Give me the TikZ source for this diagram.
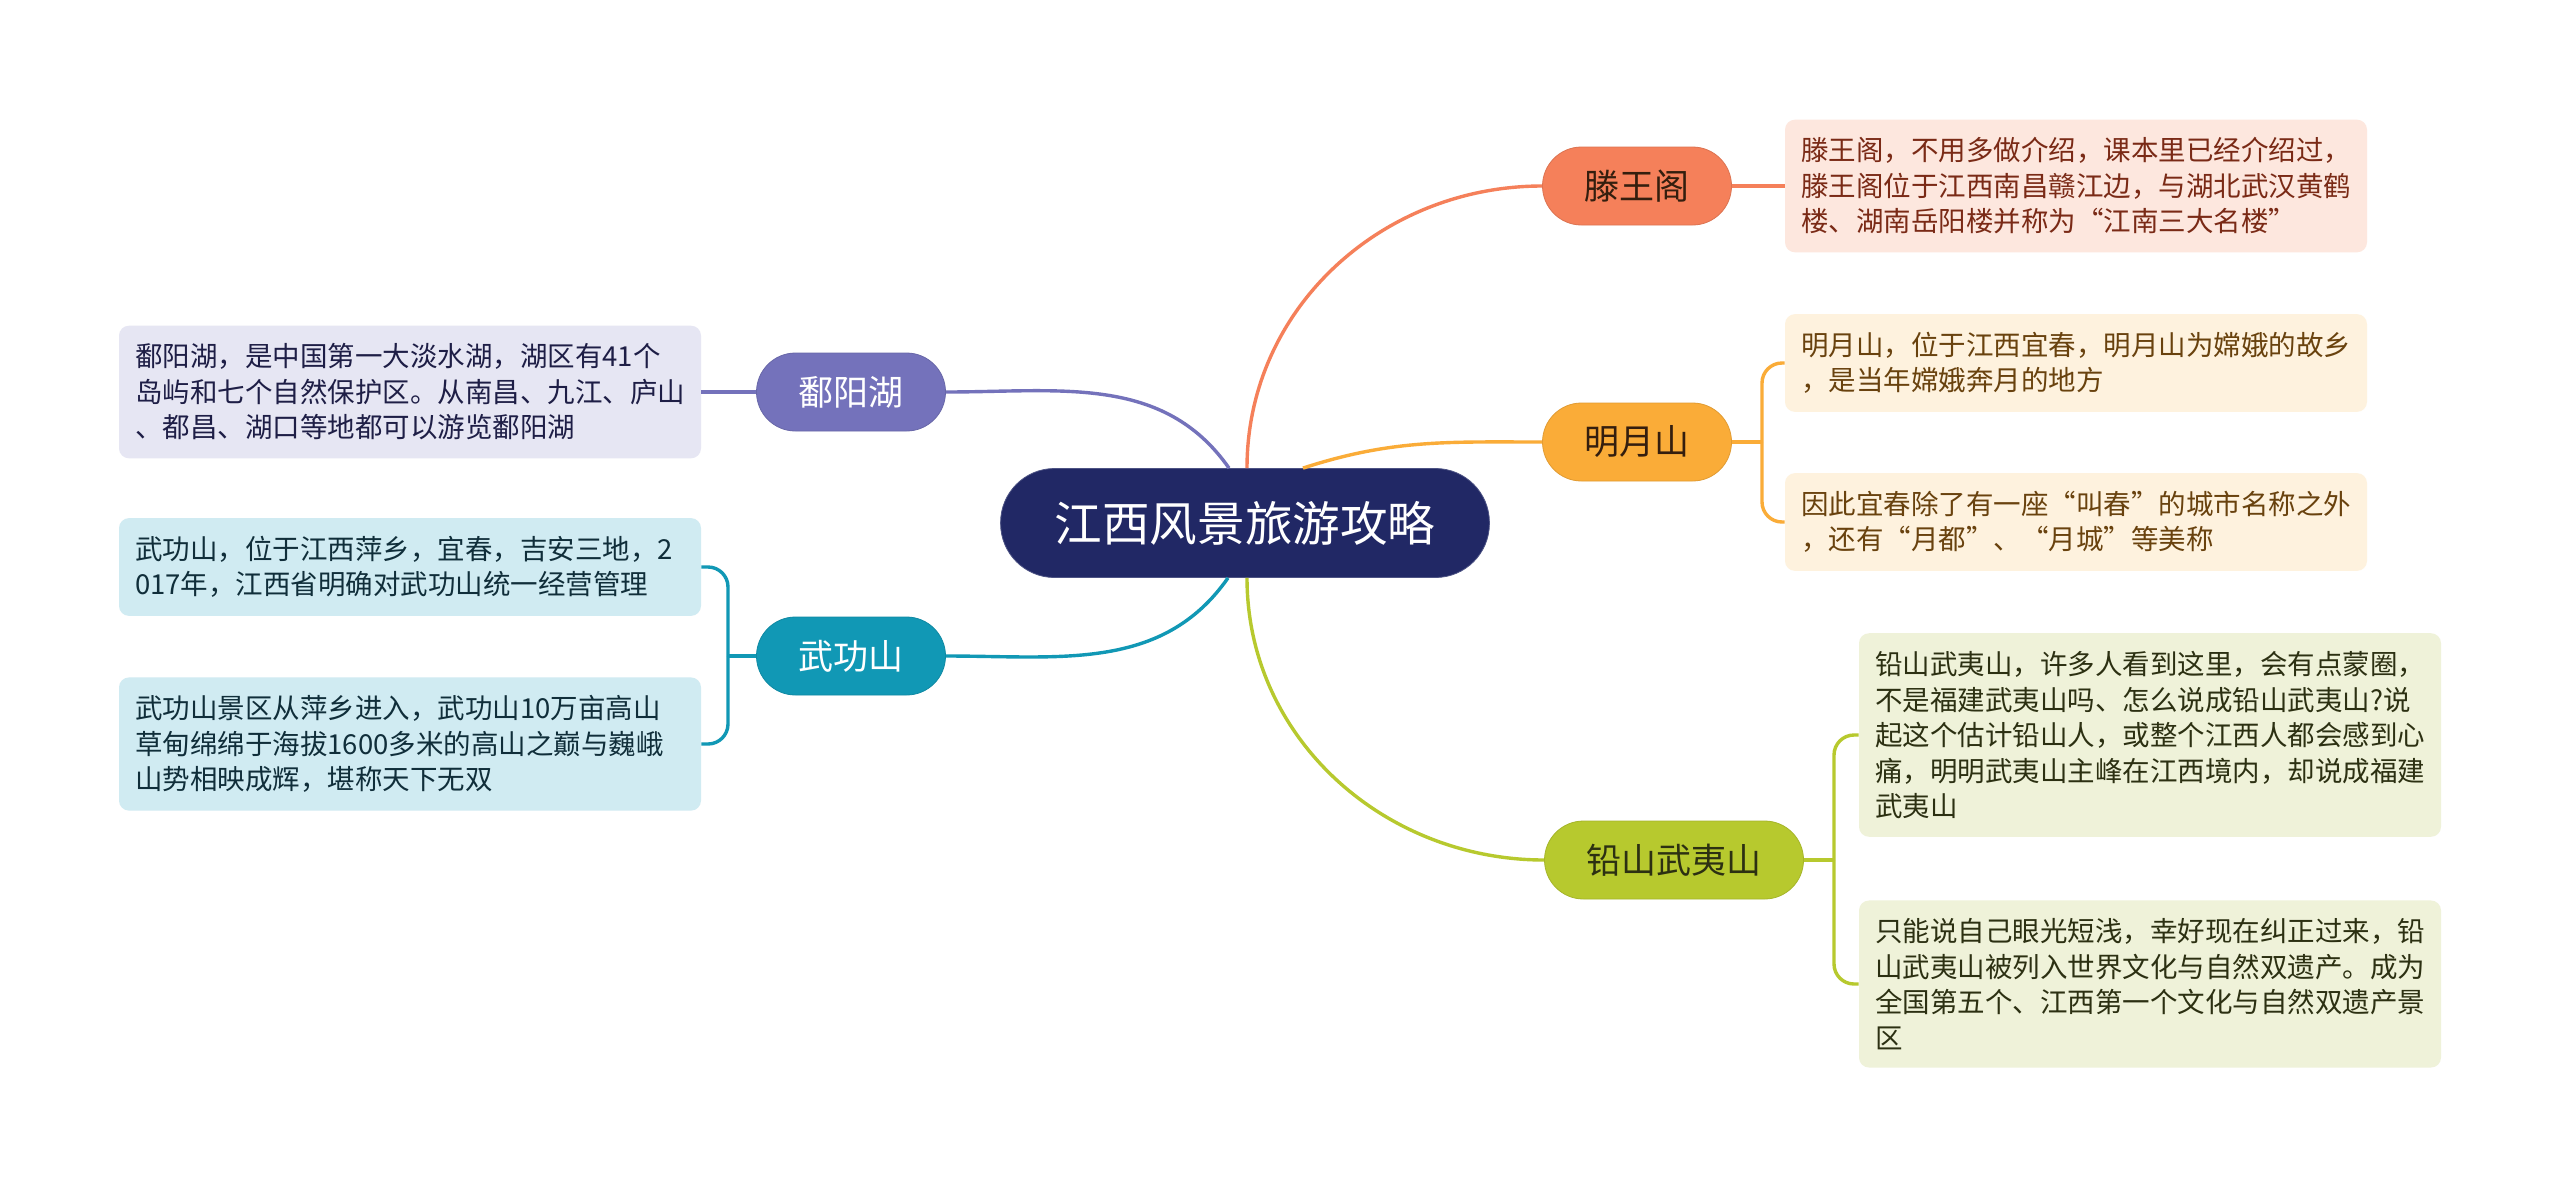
\documentclass[tikz,border=0pt]{standalone}
\usepackage{fontspec}
\newfontfamily\cjk{Noto Sans CJK SC}
\definecolor{navy}{RGB}{33,40,101}
\definecolor{twgc}{RGB}{245,128,90}
\definecolor{twgbg}{RGB}{253,231,222}
\definecolor{twgtx}{RGB}{122,42,22}
\definecolor{myc}{RGB}{250,172,56}
\definecolor{mybg}{RGB}{254,242,222}
\definecolor{mytx}{RGB}{105,66,14}
\definecolor{qsc}{RGB}{183,201,46}
\definecolor{qsbg}{RGB}{239,242,217}
\definecolor{qstx}{RGB}{44,48,18}
\definecolor{pyc}{RGB}{116,114,187}
\definecolor{pybg}{RGB}{230,230,243}
\definecolor{pytx}{RGB}{30,30,70}
\definecolor{wgc}{RGB}{17,152,181}
\definecolor{wgbg}{RGB}{208,235,242}
\definecolor{wgtx}{RGB}{16,46,58}
\definecolor{ink}{RGB}{52,30,14}
\usepackage{tikz}
\usetikzlibrary{calc}
\tikzset{
  centre/.style={fill=navy, draw=navy!80, rounded corners=27pt, minimum height=54.5pt,
              inner xsep=27pt, inner ysep=0pt, text=white, font=\cjk\fontsize{23.8}{28}\selectfont},
  topic/.style={rounded corners=19.5pt, minimum height=39pt, inner xsep=21pt, inner ysep=0pt,
              font=\cjk\fontsize{17.5}{21}\selectfont},
  note/.style={rounded corners=5pt, text width=275pt, inner xsep=8pt, inner ysep=9pt,
              align=left, font=\cjk\fontsize{13.75}{17.75}\selectfont},
  link/.style={line width=1.7pt},
}

\begin{document}
\begin{tikzpicture}[x=0.5pt, y=-0.5pt]
        \fill[white] (0,0) rectangle (2560,1189);
        \useasboundingbox (0,0) rectangle (2560,1189);
        \node[centre] (root) at (1245,523) {江西风景旅游攻略};
        \node[topic, fill=twgc, draw=twgc!90!black, text=ink] (twg) at (1637,186) {滕王阁};
        \node[topic, fill=myc, draw=myc!90!black, text=ink] (myue) at (1637,442) {明月山};
        \node[topic, fill=qsc, draw=qsc!90!black, text=qstx] (qshan) at (1674,860) {铅山武夷山};
        \node[topic, fill=pyc, draw=pyc!90!black, text=white] (pyh) at (851,392) {鄱阳湖};
        \node[topic, fill=wgc, draw=wgc!90!black, text=white] (wgs) at (851,656) {武功山};
        \node[note, fill=twgbg, text=twgtx] (twgnote) at (2076,186)
          {滕王阁，不用多做介绍，课本里已经介绍过，\\滕王阁位于江西南昌赣江边，与湖北武汉黄鹤\\楼、湖南岳阳楼并称为“江南三大名楼”};
        \node[note, fill=mybg, text=mytx] (mynote1) at (2076,363)
          {明月山，位于江西宜春，明月山为嫦娥的故乡\\，是当年嫦娥奔月的地方};
        \node[note, fill=mybg, text=mytx] (mynote2) at (2076,522)
          {因此宜春除了有一座“叫春”的城市名称之外\\，还有“月都”、“月城”等美称};
        \node[note, fill=qsbg, text=qstx] (qsnote1) at (2150,735)
          {铅山武夷山，许多人看到这里，会有点蒙圈，\\不是福建武夷山吗、怎么说成铅山武夷山?说\\起这个估计铅山人，或整个江西人都会感到心\\痛，明明武夷山主峰在江西境内，却说成福建\\武夷山};
        \node[note, fill=qsbg, text=qstx] (qsnote2) at (2150,984)
          {只能说自己眼光短浅，幸好现在纠正过来，铅\\山武夷山被列入世界文化与自然双遗产。成为\\全国第五个、江西第一个文化与自然双遗产景\\区};
        \node[note, fill=pybg, text=pytx] (pynote) at (410,392)
          {鄱阳湖，是中国第一大淡水湖，湖区有41个\\岛屿和七个自然保护区。从南昌、九江、庐山\\、都昌、湖口等地都可以游览鄱阳湖};
        \node[note, fill=wgbg, text=wgtx] (wgnote1) at (410,567)
          {武功山，位于江西萍乡，宜春，吉安三地，2\\017年，江西省明确对武功山统一经营管理};
        \node[note, fill=wgbg, text=wgtx] (wgnote2) at (410,744)
          {武功山景区从萍乡进入，武功山10万亩高山\\草甸绵绵于海拔1600多米的高山之巅与巍峨\\山势相映成辉，堪称天下无双};
        \draw[link, twgc] ($(root.north)+(2,0)$) to[out=90, in=180] (twg.west);
        \draw[link, myc] ($(root.north)+(58,0)$) to[out=18, in=180] (myue.west);
        \draw[link, qsc] ($(root.south)+(2,0)$) to[out=-90, in=180] (qshan.west);
        \draw[link, pyc] ($(root.north)+(-16,0)$) to[out=125, in=0] (pyh.east);
        \draw[link, wgc] ($(root.south)+(-17,0)$) to[out=235, in=0] (wgs.east);
        \coordinate (myfork) at (1762,442);
        \coordinate (qsfork) at (1834,860);
        \coordinate (wgfork) at (728,656);
        \draw[link, twgc] (twg.east) -- (twgnote.west);
        \draw[link, pyc] (pyh.west) -- (pynote.east);
        \draw[link, myc] (myue.east) -- (myfork);
        \draw[link, myc, rounded corners=10pt] (myfork) |- (mynote1.west);
        \draw[link, myc, rounded corners=10pt] (myfork) |- (mynote2.west);
        \draw[link, qsc] (qshan.east) -- (qsfork);
        \draw[link, qsc, rounded corners=10pt] (qsfork) |- (qsnote1.west);
        \draw[link, qsc, rounded corners=10pt] (qsfork) |- (qsnote2.west);
        \draw[link, wgc] (wgs.west) -- (wgfork);
        \draw[link, wgc, rounded corners=10pt] (wgfork) |- (wgnote1.east);
        \draw[link, wgc, rounded corners=10pt] (wgfork) |- (wgnote2.east);
      \end{tikzpicture}
\end{document}
